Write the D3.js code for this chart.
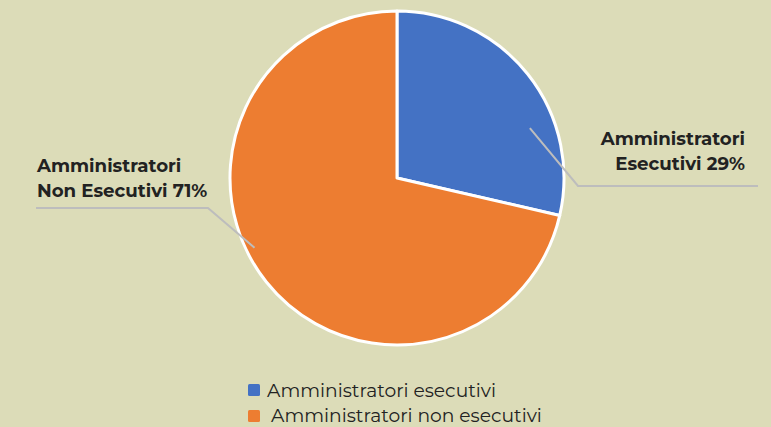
<!DOCTYPE html>
<html><head><meta charset="utf-8">
<script src="https://cdn.jsdelivr.net/npm/d3@7"></script>
<style>html,body{margin:0;padding:0;background:#dcdcb8;}svg{display:block;}</style>
</head><body>
<svg id="c" width="771" height="427"></svg>
<script>
const categories = ["Amministratori esecutivi", "Amministratori non esecutivi"];
const values = [28.6, 71.4];
const labelLines = [["Amministratori", "Esecutivi 29%"], ["Amministratori", "Non Esecutivi 71%"]];
const colors = ["#4472c4", "#ed7d31"];

const svg = d3.select("#c");
const W = 771, H = 427;
svg.append("rect").attr("width", W).attr("height", H).attr("fill", "#dcdcb8");
const cx = 397, cy = 178, R = 167;
const pie = d3.pie().sort(null).value(d => d)(values);
const arc = d3.arc().innerRadius(0).outerRadius(R);
const g = svg.append("g").attr("transform", `translate(${cx},${cy})`);
g.selectAll("path").data(pie).join("path")
  .attr("d", arc).attr("fill", (d, i) => colors[i])
  .attr("stroke", "#fff").attr("stroke-width", 3).attr("stroke-linejoin", "round");

// leader lines (start given as angle/radius fraction inside the slice)
const lineColor = "#bdbdbd";
const leaders = [
  { i: 0, ang: 69.4, rf: 0.85, elbow: [578, 186], end: [758, 186] },
  { i: 1, ang: 243.9, rf: 0.95, elbow: [208, 208], end: [36, 208] }
];
leaders.forEach(l => {
  const a = l.ang * Math.PI / 180;
  const start = [cx + R * l.rf * Math.sin(a), cy - R * l.rf * Math.cos(a)];
  svg.append("polyline")
    .attr("points", [start, l.elbow, l.end].map(p => p.join(",")).join(" "))
    .attr("fill", "none").attr("stroke", lineColor).attr("stroke-width", 2);
});

const font = "Montserrat, 'Noto Sans', 'Open Sans', sans-serif";
const rl = svg.append("text").attr("font-family", font).attr("font-weight", "bold")
  .attr("font-size", 18.2).attr("fill", "#222").attr("text-anchor", "end");
labelLines[0].forEach((t, k) => rl.append("tspan").attr("x", 745).attr("y", 145 + k * 25).text(t));
const ll = svg.append("text").attr("font-family", font).attr("font-weight", "bold")
  .attr("font-size", 18.2).attr("fill", "#222").attr("text-anchor", "start");
labelLines[1].forEach((t, k) => ll.append("tspan").attr("x", 37).attr("y", 172 + k * 25).text(t));

// legend
const leg = svg.append("g");
const legPos = [{ sx: 248, sy: 384, tx: 267, ty: 397 }, { sx: 248, sy: 410, tx: 271, ty: 422 }];
categories.forEach((c, i) => {
  const p = legPos[i];
  leg.append("rect").attr("x", p.sx).attr("y", p.sy).attr("width", 12).attr("height", 12)
    .attr("rx", 1.5).attr("fill", colors[i]);
  leg.append("text").attr("x", p.tx).attr("y", p.ty).attr("font-family", font)
    .attr("font-size", 18.7).attr("fill", "#222").text(c);
});
</script>
</body></html>
